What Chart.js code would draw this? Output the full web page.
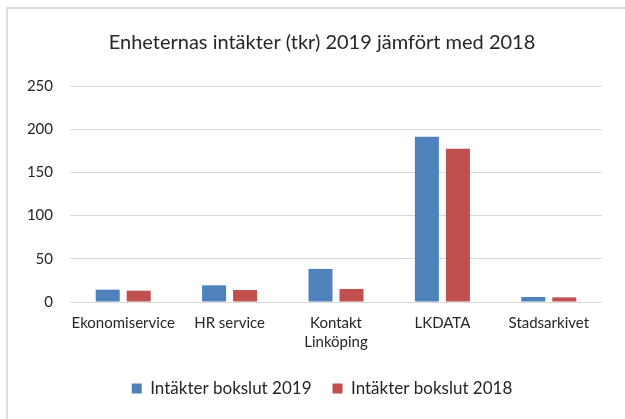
<!DOCTYPE html>
<html lang="sv">
<head>
    <meta charset="UTF-8">
    <title>Enheternas intäkter</title>
    <script src="https://cdn.jsdelivr.net/npm/chart.js"></script>
    <style>
        html, body { margin: 0; padding: 0; background: #fff; overflow: hidden; }
        #box {
            position: absolute; left: 6px; top: 7px;
            width: 660px; height: 440px;
            border: 2px solid #dedede;
        }
        #chart { position: absolute; left: 0; top: 0; display: block; }
    </style>
</head>
<body>
    <div id="box"></div>
    <canvas id="chart" width="625" height="419"></canvas>
<script>
    var categories = ['Ekonomiservice', 'HR service', ['Kontakt', 'Linköping'], 'LKDATA', 'Stadsarkivet'];
    var values2019 = [14.3, 19.3, 38.3, 191.3, 5.8];
    var values2018 = [13.1, 13.9, 15.1, 177.4, 5.4];
    var seriesNames = ['Intäkter bokslut 2019', 'Intäkter bokslut 2018'];
    var yTicks = [0, 50, 100, 150, 200, 250];

    var fontFamily = 'Lato, "Open Sans", sans-serif';
    var textColor = '#262626';

    var ctx = document.getElementById('chart').getContext('2d');
    var myChart = new Chart(ctx, {
        type: 'bar',
        data: {
            labels: categories,
            datasets: [{
                label: seriesNames[0],
                data: values2019,
                backgroundColor: '#4F81BD',
                categoryPercentage: 0.583,
                barPercentage: 0.774
            }, {
                label: seriesNames[1],
                data: values2018,
                backgroundColor: '#C0504D',
                categoryPercentage: 0.583,
                barPercentage: 0.774
            }]
        },
        options: {
            responsive: false,
            animation: false,
            layout: {
                padding: { left: 24, right: 5, top: 31, bottom: 12 }
            },
            scales: {
                x: {
                    grid: { display: false, drawTicks: false },
                    border: { display: false },
                    ticks: {
                        color: textColor,
                        font: { family: fontFamily, size: 15, lineHeight: 1.3 },
                        padding: 11,
                        maxRotation: 0,
                        autoSkip: false
                    },
                    afterFit: function (axis) {
                        axis.paddingLeft = 0;
                        axis.paddingRight = 0;
                        axis.height -= 4;
                    }
                },
                y: {
                    min: 0,
                    max: 250,
                    afterBuildTicks: function (axis) {
                        axis.ticks = yTicks.map(function (v) { return { value: v }; });
                    },
                    grid: { color: '#d9d9d9', lineWidth: 1, drawTicks: false },
                    border: { display: false },
                    ticks: {
                        color: textColor,
                        font: { family: fontFamily, size: 15 },
                        padding: 17
                    },
                    afterFit: function (axis) {
                        axis.width = 46;
                    }
                },
                spacer: {
                    position: 'right',
                    min: 0,
                    max: 1,
                    grid: { display: false, drawTicks: false },
                    border: { display: false },
                    ticks: { display: false },
                    afterFit: function (axis) {
                        axis.width = 18;
                    }
                }
            },
            plugins: {
                title: {
                    display: true,
                    text: 'Enheternas intäkter (tkr) 2019 jämfört med 2018',
                    color: textColor,
                    font: { family: fontFamily, size: 20, weight: 'normal' },
                    padding: { top: 0, bottom: 31 }
                },
                legend: {
                    display: true,
                    position: 'bottom',
                    labels: {
                        color: textColor,
                        font: { family: fontFamily, size: 17 },
                        boxWidth: 10,
                        boxHeight: 10,
                        padding: 21
                    }
                },
                tooltip: { enabled: false }
            }
        }
    });
</script>
</body>
</html>
